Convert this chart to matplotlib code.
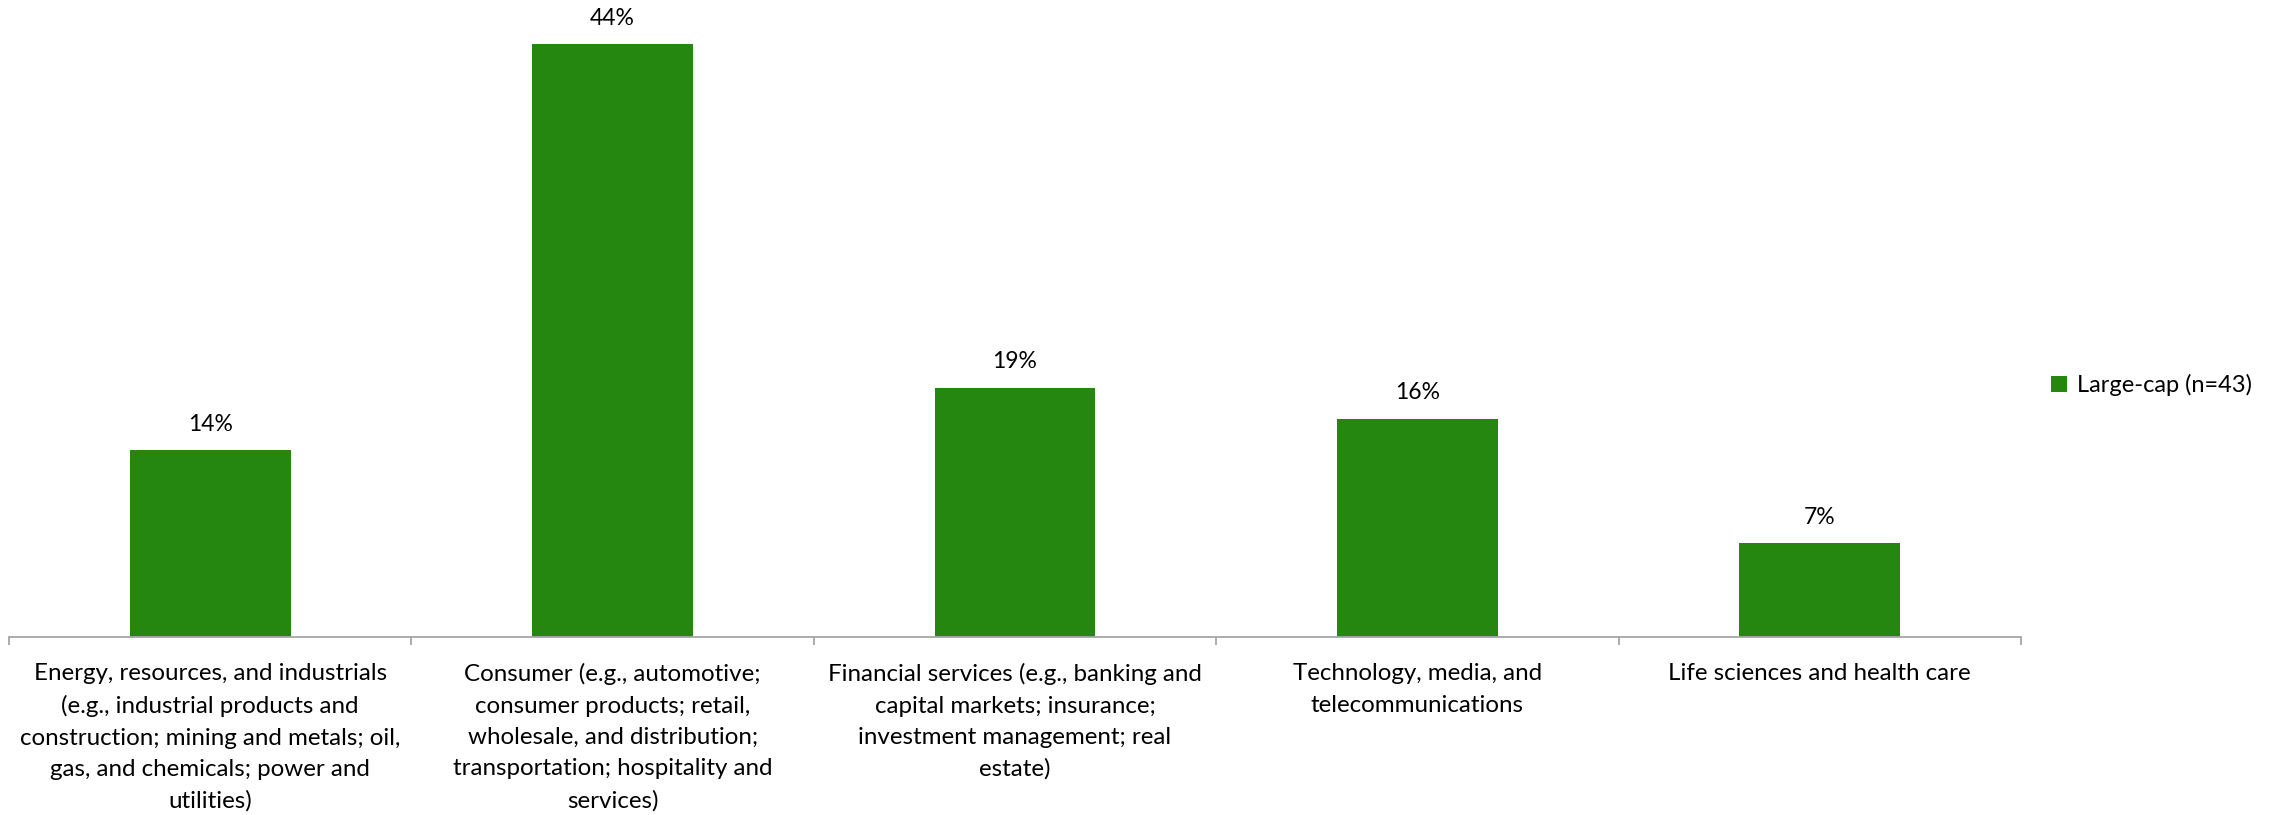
import matplotlib
matplotlib.use("Agg")
import matplotlib.pyplot as plt
import numpy as np

plt.rcParams["font.family"] = ["Lato", "DejaVu Sans"]

categories = [
    "Energy, resources, and industrials\n(e.g., industrial products and\nconstruction; mining and metals; oil,\ngas, and chemicals; power and\nutilities)",
    "Consumer (e.g., automotive;\nconsumer products; retail,\nwholesale, and distribution;\ntransportation; hospitality and\nservices)",
    "Financial services (e.g., banking and\ncapital markets; insurance;\ninvestment management; real\nestate)",
    "Technology, media, and\ntelecommunications",
    "Life sciences and health care",
]
values = [0.1395, 0.4419, 0.1860, 0.1628, 0.0698]
value_labels = ["14%", "44%", "19%", "16%", "7%"]
series_name = "Large-cap (n=43)"

bar_color = "#268710"
axis_color = "#a6a6a6"

fig = plt.figure(figsize=(22.88, 8.15), dpi=100)
ax = fig.add_axes([9 / 2288, 1 - 637 / 815, (2021 - 9) / 2288, 0.757])

x = np.arange(len(categories))
bars = ax.bar(x, values, width=0.4, color=bar_color, label=series_name, zorder=2)

for b, lab in zip(bars, value_labels):
    ax.annotate(lab, (b.get_x() + b.get_width() / 2, b.get_height()),
                xytext=(0, 11), textcoords="offset points",
                ha="center", va="bottom", fontsize=16.5, color="#000000")

ax.set_xlim(-0.5, len(categories) - 0.5)
ax.set_ylim(0, 0.46)

for side in ["top", "right", "left"]:
    ax.spines[side].set_visible(False)
ax.spines["bottom"].set_color(axis_color)
ax.spines["bottom"].set_linewidth(1.3)
ax.set_yticks([])

ax.set_xticks(x)
ax.set_xticklabels(categories, fontsize=17.4, linespacing=1.6)
ax.tick_params(axis="x", which="major", length=0, pad=19)
ax.set_xticks(np.arange(-0.5, len(categories)), minor=True)
ax.tick_params(axis="x", which="minor", length=6, width=1.3, color=axis_color)

fig.legend(handles=[bars], labels=[series_name], loc="center left",
           bbox_to_anchor=(2030 / 2288, 1 - 385 / 815), frameon=False,
           fontsize=17, handlelength=0.65, handleheight=0.65, handletextpad=0.45)

fig.savefig("out.png", dpi=100)
